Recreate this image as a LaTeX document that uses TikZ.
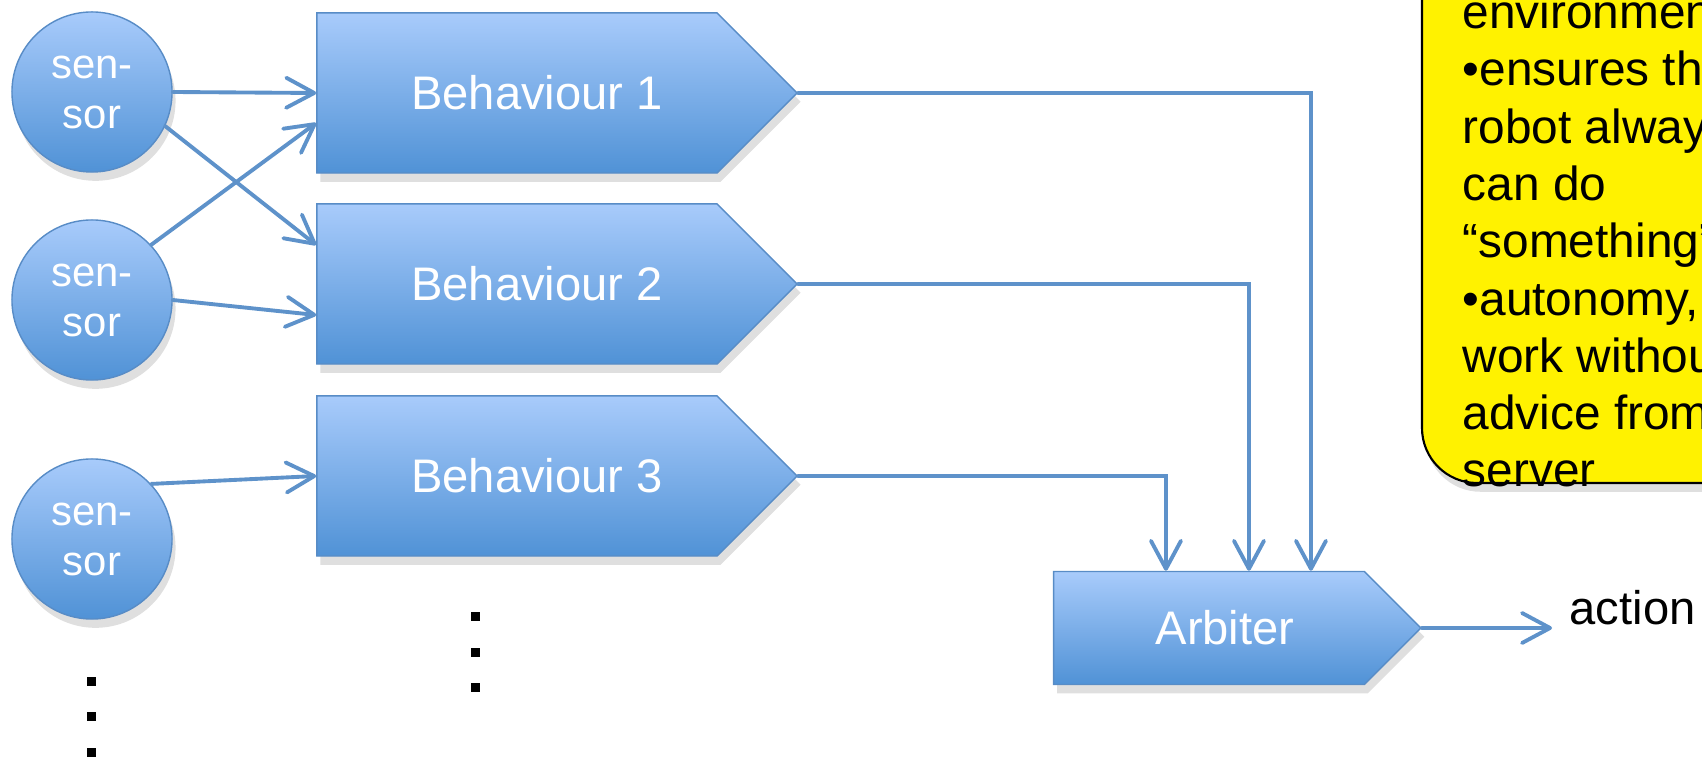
\documentclass[tikz,border=0pt]{standalone}
\usepackage{fontspec}
\setmainfont{Liberation Sans}
\usetikzlibrary{arrows.meta, positioning, shapes.symbols, shadows, calc}

\definecolor{shapetop}{RGB}{168,203,251}
\definecolor{shapebot}{RGB}{80,146,214}
\definecolor{edgeblue}{RGB}{88,140,198}
\definecolor{linkblue}{RGB}{94,146,202}

\tikzset{
  softshadow/.style={drop shadow={shadow xshift=1pt, shadow yshift=-2.5pt, opacity=0.25}},
  sensor/.style={circle, draw=edgeblue, line width=0.4pt, minimum size=1.6cm, inner sep=0pt,
    top color=shapetop, bottom color=shapebot, text=white, align=center,
    font=\fontsize{11.9}{14.2}\selectfont, softshadow},
  behav/.style={signal, signal to=east, signal pointer angle=90, draw=edgeblue, line width=0.4pt,
    minimum width=4.8cm, minimum height=1.6cm, inner sep=0pt,
    top color=shapetop, bottom color=shapebot, text=white,
    font=\fontsize{13.4}{16}\selectfont, softshadow},
  link/.style={draw=linkblue, line width=1.1pt, line cap=round,
    -{Straight Barb[length=2.8mm, width=3mm, round]}},
  note/.style={draw=black, line width=0.6pt, fill=yellow, rounded corners=0.55cm},
  notetext/.style={align=left, inner sep=0pt, font=\fontsize{13.6}{16.3}\selectfont}
}

\begin{document}
\begin{tikzpicture}[x=0.01cm, y=-0.01cm]
  \useasboundingbox (0,0) rectangle (1702,758);
  \clip (0,0) rectangle (1702,758);

  % Note box (runs off the page)
  \draw[note, softshadow] (1422,-80) |- (1780,483) -- (1780,-80) -- cycle;
  \node[notetext, anchor=base west] (notetxt) at (1462,487)
    {environment\\•ensures the\\robot always\\can do\\“something”\\•autonomy,\\work without\\advice from\\server};

  % Sensors
  \node[sensor] (s1) at (92,92) {sen-\\sor};
  \node[sensor] (s2) at (92,300) {sen-\\sor};
  \node[sensor] (s3) at (92,539) {sen-\\sor};

  % Behaviours and arbiter
  \node[behav] (b1) at (517,93) {\hspace*{0.4cm}Behaviour 1};
  \node[behav] (b2) at (517,284) {\hspace*{0.4cm}Behaviour 2};
  \node[behav] (b3) at (517,476) {\hspace*{0.4cm}Behaviour 3};
  \node[behav, minimum width=3.67cm, minimum height=1.13cm] (arb) at (1209,628) {\hspace*{0.32cm}Arbiter};
  \node[inner sep=0pt, anchor=base west, font=\fontsize{13.4}{16}\selectfont] (act) at (1569,625) {action};

  % Sensor inputs
  \draw[link] (s1.east) -- (b1.west);
  \draw[link] (s1.-25) -- ([yshift=0.39cm]b2.west);
  \draw[link] (s2.43) -- ([yshift=-0.3cm]b1.west);
  \draw[link] (s2.east) -- ([yshift=-0.31cm]b2.west);
  \draw[link] (s3.43) -- (b3.west);

  % Behaviours into arbiter
  \draw[link] (b1.east) -| ($(arb.west |- arb.north)+(258,0)$);
  \draw[link] (b2.east) -| ($(arb.west |- arb.north)+(196,0)$);
  \draw[link] (b3.east) -| ($(arb.west |- arb.north)+(113,0)$);
  \draw[link, shorten >=0.17cm] (arb.east) -- (arb.east -| act.west);

  % More sensors / behaviours
  \foreach \y in {677,712,748} \fill (87,\y) rectangle ++(9,9);
  \foreach \y in {612,648,683} \fill (471,\y) rectangle ++(9,9);
\end{tikzpicture}
\end{document}
